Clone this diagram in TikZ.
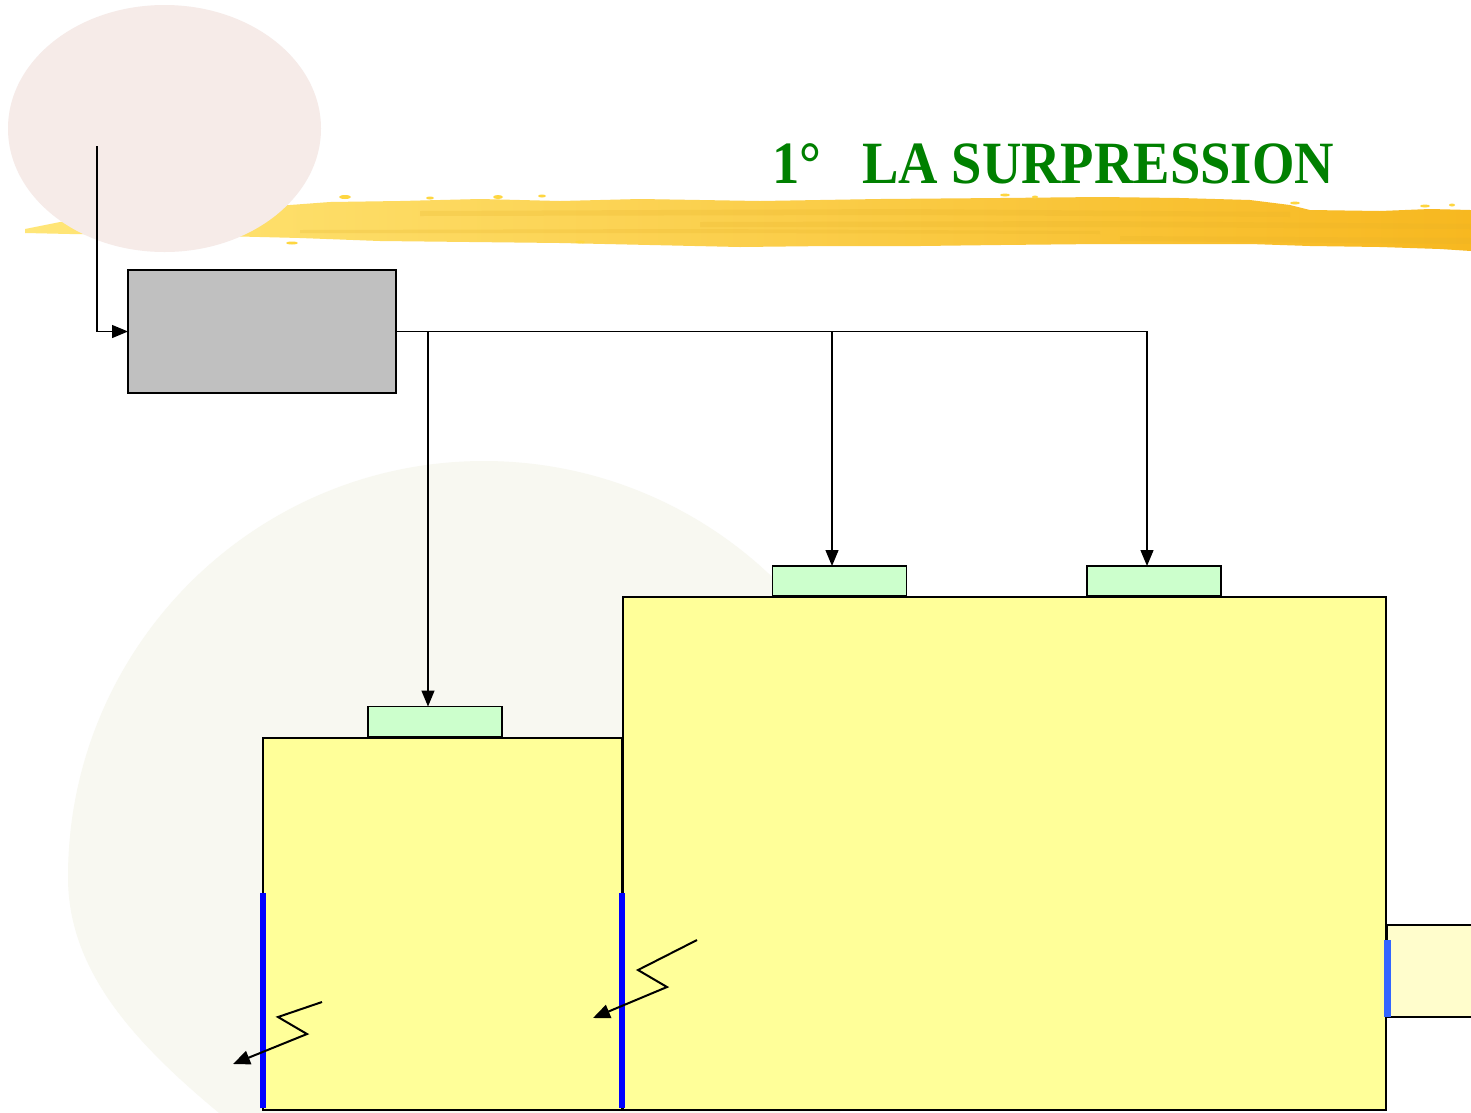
\documentclass[tikz,border=0pt]{standalone}
\usepackage{fontspec}
\setmainfont{Liberation Serif}
\usetikzlibrary{arrows.meta,calc}

\definecolor{titlegreen}{RGB}{0,128,0}
\definecolor{boxgray}{RGB}{192,192,192}
\definecolor{padgreen}{RGB}{204,255,204}
\definecolor{tankyellow}{RGB}{255,255,153}
\definecolor{paleyellow}{RGB}{255,253,204}
\definecolor{wallblue}{RGB}{0,0,255}
\definecolor{portblue}{RGB}{51,102,255}
\definecolor{discpink}{RGB}{246,235,232}
\definecolor{disccream}{RGB}{248,248,241}
\definecolor{brushlight}{RGB}{255,230,120}
\definecolor{brushmid}{RGB}{254,214,64}
\definecolor{brushdark}{RGB}{247,184,32}
\definecolor{brushstreak}{RGB}{230,178,40}

\tikzset{
  frame/.style={draw=black, line width=1.5pt, inner sep=0pt, outer sep=0pt},
  ctrlbox/.style={frame, fill=boxgray, minimum width=268pt, minimum height=123pt},
  pad/.style={frame, fill=padgreen, minimum width=134pt, minimum height=30pt},
  tank/.style={frame, fill=tankyellow},
  feed/.style={line width=1.3pt, -{Triangle[length=16pt,width=13pt]}},
  leak/.style={line width=2pt, -{Triangle[length=17pt,width=14pt]}},
  wall/.style={line width=5.5pt, wallblue},
}

\begin{document}
\begin{tikzpicture}[x=1pt,y=-1pt]
\clip (0,0) rectangle (1471,1112);
\useasboundingbox (0,0) rectangle (1471,1112);
\fill[white] (0,0) rectangle (1471,1112);

% large pale disc in the background (its right part lies behind the tanks)
\fill[disccream] (68,877) arc[start angle=180, end angle=313, radius=416]
  -- (840,640) -- (840,1130) -- (240,1130)
  .. controls (140,1050) and (68,975) .. (68,877) -- cycle;

% brush stroke under the heading
\shade[left color=brushlight, middle color=brushmid, right color=brushdark]
  (25,229) -- (60,222) -- (110,219) -- (160,214) -- (230,210) -- (290,205)
  -- (330,202) -- (400,201) -- (480,199) -- (560,201) -- (640,199)
  -- (760,201) -- (880,199) -- (1000,198) -- (1100,197) -- (1180,198)
  -- (1250,200) -- (1290,205) -- (1310,210) -- (1380,211) -- (1430,209)
  -- (1471,210) -- (1471,251) -- (1440,249) -- (1380,247) -- (1310,246)
  -- (1250,244) -- (1180,244) -- (1100,244) -- (1000,245) -- (920,246)
  -- (830,246) -- (740,247) -- (650,245) -- (560,243) -- (470,242)
  -- (380,241) -- (300,238) -- (220,236) -- (140,235) -- (70,234)
  -- (25,233) -- cycle;
\begin{scope}[brushstreak, opacity=0.22]
  \fill (420,211) -- (900,209) -- (1290,212) -- (1290,217) -- (900,215) -- (420,216) -- cycle;
  \fill (700,222) -- (1100,221) -- (1471,224) -- (1471,229) -- (1100,227) -- (700,227) -- cycle;
  \fill (300,230) -- (700,229) -- (1100,231) -- (1100,234) -- (700,233) -- (300,233) -- cycle;
  \fill (1120,236) -- (1471,238) -- (1471,244) -- (1120,241) -- cycle;
\end{scope}
\begin{scope}[brushmid]
  \fill (345,197) ellipse (6 and 2);
  \fill (430,198) ellipse (4 and 1.5);
  \fill (498,197) ellipse (5 and 2);
  \fill (542,196) ellipse (4 and 1.5);
  \fill (1005,195) ellipse (5 and 1.5);
  \fill (1035,197) ellipse (3 and 1.5);
  \fill (1295,203) ellipse (5 and 1.5);
  \fill (1425,206) ellipse (5 and 1.5);
  \fill (1452,205) ellipse (3 and 1.5);
  \fill (292,243) ellipse (6 and 1.5);
  \fill (580,242) ellipse (5 and 1.5);
\end{scope}

% small pinkish disc at the top left
\fill[discpink] (164.5,128.5) ellipse (156.5 and 123.5);

% heading
\node[anchor=base west, inner sep=0pt, text=titlegreen]
  (title) at (772,183)
  {\scalebox{0.91}[1]{\fontsize{60}{60}\selectfont\bfseries 1°\hspace{45pt}LA SURPRESSION}};

% controller
\node[ctrlbox] (ctrl) at (262,331.5) {};

% tanks
\node[tank, minimum width=359pt, minimum height=372pt] (small) at (442.5,924) {};
\node[tank, minimum width=763pt, minimum height=513pt] (big) at (1004.5,853.5) {};
\node[frame, fill=paleyellow, minimum width=110pt, minimum height=92pt,
      anchor=north west] (side) at (1387,925) {};

% pads on the tank tops
\node[pad] (p1) at (435,721.5) {};
\node[pad] (p2) at (839.5,581) {};
\node[pad] (p3) at (1154,581) {};

% walls
\draw[wall] (small.south west) ++(0,-2) -- ++(0,-215);
\draw[wall] (small.south east) ++(0,-2) -- ++(0,-215);
\draw[line width=7pt, portblue] (side.west) ++(0,-31) -- ++(0,77);

% signal lines
\coordinate (src) at (97,146);
\draw[feed] (src) |- (ctrl.west);
\coordinate (in1) at ([xshift=-7pt]p1.north);
\coordinate (in2) at ([xshift=-7.5pt]p2.north);
\coordinate (in3) at ([xshift=-7pt]p3.north);
\draw[feed] (ctrl.east) -| (in3);
\draw[feed] (in1 |- ctrl.east) -- (in1);
\draw[feed] (in2 |- ctrl.east) -- (in2);

% leak markers
\coordinate (l1a) at (322,1002);
\coordinate (l1b) at (278,1017);
\coordinate (l1c) at (307,1034);
\coordinate (l1d) at (233,1064);
\draw[leak] (l1a) -- (l1b) -- (l1c) -- (l1d);
\coordinate (l2a) at (697,940);
\coordinate (l2b) at (638,970);
\coordinate (l2c) at (667,987);
\coordinate (l2d) at (593,1018);
\draw[leak] (l2a) -- (l2b) -- (l2c) -- (l2d);
\end{tikzpicture}
\end{document}
